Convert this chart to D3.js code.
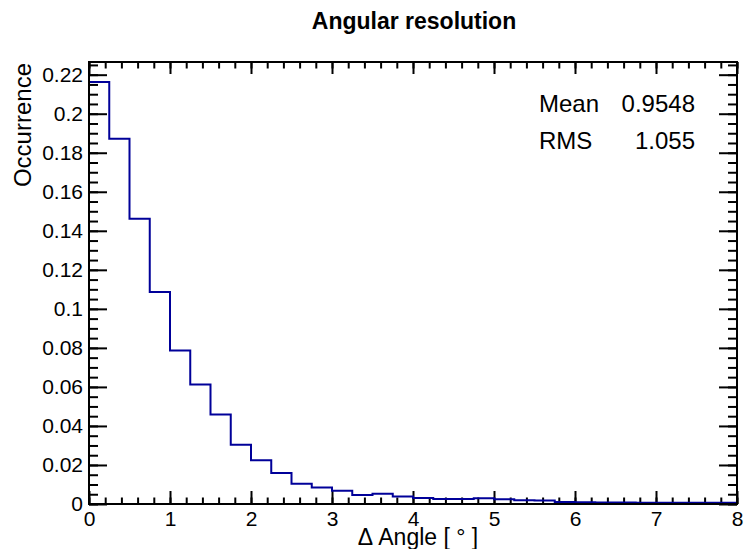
<!DOCTYPE html>
<html>
<head>
<meta charset="utf-8">
<script src="https://cdn.jsdelivr.net/npm/d3@7"></script>
<style>
  html, body { margin: 0; padding: 0; background: #fff; }
  svg { display: block; }
  text { font-family: "Liberation Sans", Arial, Helvetica, sans-serif; fill: #000; }
</style>
</head>
<body>
<svg id="chart" width="746" height="549"></svg>
<script>
// ---- data ----
const binEdges = [0,0.25,0.5,0.75,1,1.25,1.5,1.75,2,2.25,2.5,2.75,3,3.25,3.5,3.75,4,4.25,4.5,4.75,5,5.25,5.5,5.75,6,6.25,6.5,6.75,7,7.25,7.5,7.75,8];
const occurrence = [0.2162,0.1872,0.1462,0.1087,0.0786,0.0613,0.0459,0.0304,0.0224,0.0159,0.0104,0.0085,0.0068,0.0046,0.0053,0.0039,0.0031,0.0026,0.0026,0.0030,0.0024,0.0019,0.0018,0.0010,0.0009,0.0008,0.0008,0.0007,0.0007,0.0006,0.0006,0.0006];
const xTicks = [0,1,2,3,4,5,6,7,8];
const xTickLabels = ["0","1","2","3","4","5","6","7","8"];
const yTicks = [0,0.02,0.04,0.06,0.08,0.1,0.12,0.14,0.16,0.18,0.2,0.22];
const yTickLabels = ["0","0.02","0.04","0.06","0.08","0.1","0.12","0.14","0.16","0.18","0.2","0.22"];
const statNames = ["Mean","RMS"];
const statValues = ["0.9548","1.055"];
const chartTitle = "Angular resolution";
const xTitle = "\u0394 Angle [ \u00B0 ]";
const yTitle = "Occurrence";
const xMax = 8, yMax = 0.2265;

// ---- layout ----
const L = 89, R = 737, T = 62, B = 504;
const svg = d3.select("#chart");
const x = d3.scaleLinear().domain([0, xMax]).range([L, R]);
const y = d3.scaleLinear().domain([0, yMax]).range([B, T]);

const xMinor = d3.range(0, xMax + 1e-9, 0.2);
const yMinor = d3.range(0, yMax, 0.005);

function styleAxis(g) {
  g.select(".domain").remove();
  g.selectAll(".tick line").attr("stroke", "#000").attr("stroke-width", 2);
}

// minor ticks
svg.append("g").attr("transform", `translate(0,${B})`)
  .call(d3.axisTop(x).tickValues(xMinor).tickSize(6.5).tickFormat(""))
  .call(styleAxis);
svg.append("g").attr("transform", `translate(0,${T})`)
  .call(d3.axisBottom(x).tickValues(xMinor).tickSize(6.5).tickFormat(""))
  .call(styleAxis);
svg.append("g").attr("transform", `translate(${L},0)`)
  .call(d3.axisRight(y).tickValues(yMinor).tickSize(9).tickFormat(""))
  .call(styleAxis);
svg.append("g").attr("transform", `translate(${R},0)`)
  .call(d3.axisLeft(y).tickValues(yMinor).tickSize(9).tickFormat(""))
  .call(styleAxis);

// major ticks
svg.append("g").attr("transform", `translate(0,${B})`)
  .call(d3.axisTop(x).tickValues(xTicks).tickSize(13).tickFormat(""))
  .call(styleAxis);
svg.append("g").attr("transform", `translate(0,${T})`)
  .call(d3.axisBottom(x).tickValues(xTicks).tickSize(12).tickFormat(""))
  .call(styleAxis);
svg.append("g").attr("transform", `translate(${L},0)`)
  .call(d3.axisRight(y).tickValues(yTicks).tickSize(18).tickFormat(""))
  .call(styleAxis);
svg.append("g").attr("transform", `translate(${R},0)`)
  .call(d3.axisLeft(y).tickValues(yTicks).tickSize(18).tickFormat(""))
  .call(styleAxis);

// tick labels
const xl = svg.append("g").attr("transform", `translate(0,${B})`)
  .call(d3.axisBottom(x).tickValues(xTicks).tickSize(0).tickPadding(7)
    .tickFormat((d, i) => xTickLabels[i]));
xl.select(".domain").remove();
xl.selectAll("text").attr("font-size", 21).attr("font-family", "Liberation Sans, Arial, sans-serif");

const yl = svg.append("g").attr("transform", `translate(${L},0)`)
  .call(d3.axisLeft(y).tickValues(yTicks).tickSize(0).tickPadding(6)
    .tickFormat((d, i) => yTickLabels[i]));
yl.select(".domain").remove();
yl.selectAll("text").attr("font-size", 21).attr("font-family", "Liberation Sans, Arial, sans-serif");

// histogram outline
const pts = [{x: 0, y: 0}];
occurrence.forEach((v, i) => pts.push({x: binEdges[i], y: v}));
pts.push({x: binEdges[binEdges.length - 1], y: occurrence[occurrence.length - 1]});
pts.push({x: binEdges[binEdges.length - 1], y: 0});
const line = d3.line().x(d => x(d.x)).y(d => y(d.y)).curve(d3.curveStepAfter);
svg.append("path").datum(pts).attr("d", line)
  .attr("fill", "none").attr("stroke", "#000099").attr("stroke-width", 2);

// frame
svg.append("rect").attr("x", L).attr("y", T).attr("width", R - L).attr("height", B - T)
  .attr("fill", "none").attr("stroke", "#000").attr("stroke-width", 2);

// titles
svg.append("text").attr("x", 414).attr("y", 29).attr("text-anchor", "middle")
  .attr("font-size", 23).attr("font-weight", "bold").text(chartTitle);
svg.append("text").attr("x", 418).attr("y", 545).attr("text-anchor", "middle")
  .attr("font-size", 23).text(xTitle);
svg.append("text").attr("transform", `translate(31,${T + 1}) rotate(-90)`)
  .attr("text-anchor", "end").attr("font-size", 24).text(yTitle);

// stats
statNames.forEach((n, i) => {
  svg.append("text").attr("x", 539).attr("y", 112 + i * 37).attr("font-size", 24).text(n);
  svg.append("text").attr("x", 695).attr("y", 112 + i * 37).attr("text-anchor", "end")
    .attr("font-size", 24).text(statValues[i]);
});
</script>
</body>
</html>
